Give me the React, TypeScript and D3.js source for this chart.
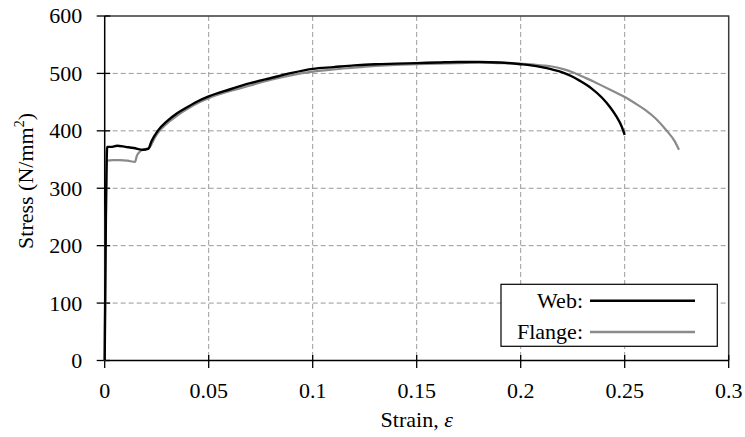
import React from "react";
import * as d3 from "d3";

// strain / stress readings for the two coupons
const webStrain = [
  0, 0.0012, 0.003, 0.006, 0.01, 0.014, 0.0185, 0.021, 0.0225, 0.0255, 0.03,
  0.035, 0.04, 0.045, 0.05, 0.06, 0.07, 0.08, 0.09, 0.1, 0.11, 0.12, 0.13,
  0.14, 0.15, 0.16, 0.17, 0.18, 0.19, 0.2, 0.205, 0.21, 0.215, 0.22, 0.2245,
  0.2285, 0.234, 0.239, 0.243, 0.246, 0.2485, 0.25,
];
const webStress = [
  0, 372, 372, 374, 372, 370, 367, 369, 382, 400, 417, 431, 442, 452, 460, 472,
  483, 492, 501, 508, 511, 514, 516, 517, 518, 519, 520, 520, 519, 516, 514,
  511, 507, 502, 495, 487, 474, 458, 441, 425, 408, 393,
];
const flangeStrain = [
  0, 0.0011, 0.004, 0.0075, 0.011, 0.0146, 0.0154, 0.017, 0.019, 0.021, 0.024,
  0.0255, 0.03, 0.035, 0.04, 0.045, 0.05, 0.06, 0.07, 0.08, 0.09, 0.1, 0.11,
  0.12, 0.13, 0.14, 0.15, 0.16, 0.17, 0.18, 0.19, 0.2, 0.205, 0.21, 0.215,
  0.22, 0.225, 0.23, 0.235, 0.24, 0.245, 0.25, 0.255, 0.26, 0.265, 0.27, 0.274,
  0.2761,
];
const flangeStress = [
  0, 348, 349, 349, 348, 346, 356, 364, 368, 369, 387, 396, 413, 427, 439, 449,
  457, 469, 479, 489, 497, 503, 507, 510, 513, 515, 516, 517, 518, 519, 518,
  517, 516, 514, 512, 508, 502, 494, 486, 477, 468, 459, 448, 436, 421, 401,
  382, 367,
];
const xTicks = [0, 0.05, 0.1, 0.15, 0.2, 0.25, 0.3];
const xTickLabels = ["0", "0.05", "0.1", "0.15", "0.2", "0.25", "0.3"];
const yTicks = [0, 100, 200, 300, 400, 500, 600];
const seriesNames = ["Web:", "Flange:"];
const seriesColors = ["#000000", "#8a8a8a"];

const width = 745;
const height = 437;
const margin = { top: 16, right: 16.3, bottom: 76.5, left: 104.7 };
const innerWidth = width - margin.left - margin.right;
const innerHeight = height - margin.top - margin.bottom;

const txt = { fontFamily: "Liberation Serif", fontSize: 22, fill: "#000" };

export default function App() {
  const x = d3.scaleLinear().domain([0, 0.3]).range([0, innerWidth]);
  const y = d3.scaleLinear().domain([0, 600]).range([innerHeight, 0]);

  const line = d3
    .line<[number, number]>()
    .x((d) => x(d[0]))
    .y((d) => y(d[1]))
    .curve(d3.curveMonotoneX);

  const web = webStrain.map((s, i) => [s, webStress[i]] as [number, number]);
  const flange = flangeStrain.map(
    (s, i) => [s, flangeStress[i]] as [number, number]
  );

  const legendY = [300.7, 332];

  return (
    <div style={{ position: "absolute", left: 0, top: 0 }}>
      <svg width={width} height={height} style={{ display: "block", background: "#fff" }}>
        <g transform={`translate(${margin.left},${margin.top})`}>
          {/* dashed grid */}
          {xTicks.slice(1, -1).map((t) => (
            <line key={"vx" + t} x1={x(t)} x2={x(t)} y1={0} y2={innerHeight}
              stroke="#9a9a9a" strokeDasharray="5,3" />
          ))}
          {yTicks.slice(1, -1).map((t) => (
            <line key={"hy" + t} x1={0} x2={innerWidth} y1={y(t)} y2={y(t)}
              stroke="#9a9a9a" strokeDasharray="5,3" />
          ))}

          {/* frame top / right */}
          <path d={`M0,${y(600)}H${x(0.3)}V${y(0)}`} fill="none" stroke="#3a3a3a" strokeWidth={1.5} />

          {/* axes */}
          <line x1={0} x2={x(0.3)} y1={innerHeight} y2={innerHeight} stroke="#000" strokeWidth={1.5} />
          <line x1={0} x2={0} y1={y(600)} y2={y(0)} stroke="#000" strokeWidth={1.5} />
          {xTicks.map((t, i) => (
            <g key={"xt" + t} transform={`translate(${x(t)},${innerHeight})`}>
              <line y1={-5.5} y2={7.5} stroke="#000" strokeWidth={1.3} />
              <text y={37} textAnchor="middle" style={txt}>{xTickLabels[i]}</text>
            </g>
          ))}
          {yTicks.map((t) => (
            <g key={"yt" + t} transform={`translate(0,${y(t)})`}>
              <line x1={-8} x2={5.5} stroke="#000" strokeWidth={1.3} />
              <text x={-22.5} dy="0.34em" textAnchor="end" style={txt}>{t}</text>
            </g>
          ))}

          {/* curves */}
          <path d={line(flange) || ""} fill="none" stroke={seriesColors[1]} strokeWidth={2.2} />
          <path d={line(web) || ""} fill="none" stroke={seriesColors[0]} strokeWidth={2.4} />
        </g>

        {/* legend */}
        <rect x={501} y={284.3} width={216.3} height={62} fill="#fff" stroke="#000" strokeWidth={1.2} />
        {seriesNames.map((name, i) => (
          <g key={name}>
            <text x={583} y={legendY[i]} dy="0.33em" textAnchor="end" style={txt}>{name}</text>
            <line x1={590} x2={695} y1={legendY[i]} y2={legendY[i]} stroke={seriesColors[i]} strokeWidth={2.5} />
          </g>
        ))}

        {/* axis titles */}
        <text x={margin.left + innerWidth / 2} y={427} textAnchor="middle" style={txt}>
          Strain, <tspan style={{ fontStyle: "italic" }}>ε</tspan>
        </text>
        <text transform="translate(33,181) rotate(-90)" textAnchor="middle" style={txt}>
          Stress (N/mm<tspan dy={-9} style={{ fontSize: 14 }}>2</tspan>
          <tspan dy={9}>)</tspan>
        </text>
      </svg>
    </div>
  );
}
